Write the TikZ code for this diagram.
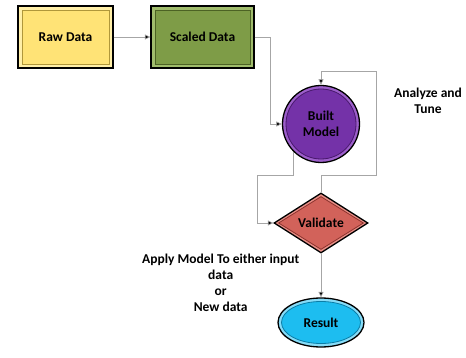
\documentclass[tikz,border=0pt]{standalone}
\usepackage{fontspec}
\setmainfont{Carlito}
\usetikzlibrary{shapes.geometric,arrows.meta}

\definecolor{rawbase}{HTML}{FFE376}
\definecolor{rawlight}{HTML}{FFEFA8}
\definecolor{rawdark}{HTML}{B0973A}
\definecolor{sclbase}{HTML}{7E9C47}
\definecolor{scllight}{HTML}{A0BC6C}
\definecolor{scldark}{HTML}{4C6224}
\definecolor{bltbase}{HTML}{7432A8}
\definecolor{bltlight}{HTML}{9C5ECA}
\definecolor{bltdark}{HTML}{48196C}
\definecolor{valbase}{HTML}{D2625A}
\definecolor{vallight}{HTML}{E88E86}
\definecolor{valdark}{HTML}{8C332E}
\definecolor{resbase}{HTML}{1DBDF0}
\definecolor{reslight}{HTML}{86DCF8}
\definecolor{resdark}{HTML}{0B7DA6}
\definecolor{wire}{HTML}{A6A6A6}

\tikzset{
  outer/.style={draw=black, line width=1.3pt, fill=#1, inner sep=0pt},
  inner/.style={draw=#1, line width=0.8pt, inner sep=0pt},
  label text/.style={font=\bfseries\fontsize{13.5}{16}\selectfont, align=center, inner sep=0pt},
  note/.style={font=\bfseries\fontsize{13.5}{16}\selectfont, align=center, inner sep=0pt},
  wireline/.style={draw=wire, line width=0.7pt},
  flow/.style={wireline, -{Triangle[length=5.5pt,width=5pt,fill=black]}},
}

\begin{document}
\begin{tikzpicture}[x=1pt, y=-1pt]
\useasboundingbox (0,0) rectangle (466,358);

% Raw Data
\node[outer=rawlight, rectangle, minimum width=95pt, minimum height=62pt] (raw) at (65.5,37) {};
\node[inner=rawdark, fill=rawbase, rectangle, minimum width=87pt, minimum height=54pt] (rawin) at (raw.center) {};
\node[label text] (rawtxt) at (raw.center) {Raw Data};

% Scaled Data
\node[outer=scllight, rectangle, minimum width=103pt, minimum height=62pt] (scaled) at (202.5,37) {};
\node[inner=scldark, fill=sclbase, rectangle, minimum width=95pt, minimum height=54pt] (scaledin) at (scaled.center) {};
\node[label text] (scaledtxt) at (scaled.center) {Scaled Data};

% Built Model
\node[outer=bltlight, circle, minimum size=77pt] (built) at (321,124) {};
\node[inner=bltdark, fill=bltbase, circle, minimum size=70pt] (builtin) at (built.center) {};
\node[label text] (builttxt) at (built.center) {Built\\Model};

% Validate
\node[outer=vallight, diamond, minimum width=94pt, minimum height=60pt] (validate) at (321,223) {};
\node[inner=valdark, fill=valbase, diamond, minimum width=85pt, minimum height=53pt] (validatein) at (validate.center) {};
\node[label text] (validatetxt) at (validate.center) {Validate};

% Result
\node[outer=reslight, ellipse, minimum width=86pt, minimum height=49pt] (result) at (321,322.5) {};
\node[inner=resdark, fill=resbase, ellipse, minimum width=79pt, minimum height=42pt] (resultin) at (result.center) {};
\node[label text] (resulttxt) at (result.center) {Result};

% Notes
\node[note] (analyze) at (428,101) {Analyze and\\Tune};
\node[note] (apply) at (220.7,283) {Apply Model To either input\\data\\or\\New data};

% Bend points
\coordinate (s1) at (270.5,37);
\coordinate (b1) at (257,175);
\coordinate (l1) at (376,175);
\coordinate (l2) at (376,71);

% Connectors
\draw[flow] (raw.east) -- (scaled.west);
\draw[flow] (scaled.east) -- (s1) |- (built.west);
\draw[flow] (built.226) |- (b1) |- (validate.west);
\draw[flow] (validate.north) |- (l1) -- (l2) -| (built.north);
\draw[flow] (validate.south) -- (result.north);
\end{tikzpicture}
\end{document}
